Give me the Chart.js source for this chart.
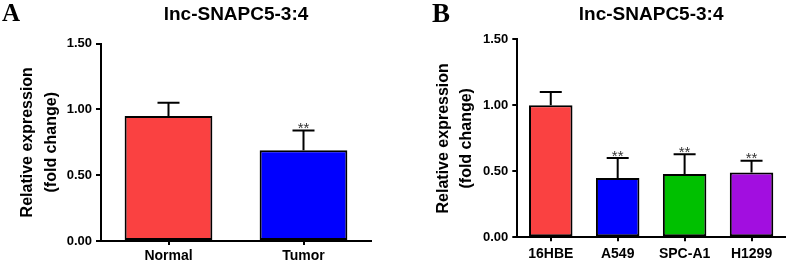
<!DOCTYPE html>
<html>
<head>
<meta charset="utf-8">
<script src="https://cdn.jsdelivr.net/npm/chart.js@4"></script>
<style>
  html, body { margin: 0; padding: 0; background: #fff; }
  #wrap { position: relative; width: 789px; height: 262px; }
  canvas { position: absolute; top: 0; }
  #chartA { left: 0; }
  #chartB { left: 400px; }
</style>
</head>
<body>
<div id="wrap">
  <canvas id="chartA" width="395" height="262"></canvas>
  <canvas id="chartB" width="389" height="262"></canvas>
</div>
<script>
// shared text
const chartTitle = "lnc-SNAPC5-3:4";
const yAxisTitle = ["Relative expression", "(fold change)"];
const yTicks = [0, 0.5, 1.0, 1.5];

// panel A: tissue
const tissueLabels = ["Normal", "Tumor"];
const tissueMeans = [0.95, 0.69];
const tissueErrors = [0.10, 0.15];
const tissueStars = ["", "**"];
const tissueColors = ["#FA4141", "#0000FF"];

// panel B: cell lines
const cellLabels = ["16HBE", "A549", "SPC-A1", "H1299"];
const cellMeans = [1.00, 0.45, 0.48, 0.49];
const cellErrors = [0.10, 0.15, 0.15, 0.09];
const cellStars = ["", "**", "**", "**"];
const cellColors = ["#FA4141", "#0000FF", "#00C000", "#A20EE0"];

const sans = 'Arial, "Liberation Sans", sans-serif';

// draws the upper SEM whisker + significance stars from the data
const errorBarPlugin = {
    id: "errorBars",
    afterDatasetsDraw(chart, args, opts) {
        const ctx = chart.ctx;
        const meta = chart.getDatasetMeta(0);
        const y = chart.scales.y;
        ctx.save();
        ctx.strokeStyle = "#000";
        ctx.lineWidth = 2;
        meta.data.forEach((bar, i) => {
            const top = y.getPixelForValue(opts.means[i] + opts.errors[i]);
            const base = y.getPixelForValue(opts.means[i]);
            ctx.beginPath();
            ctx.moveTo(bar.x, base);
            ctx.lineTo(bar.x, top);
            ctx.moveTo(bar.x - 11, top);
            ctx.lineTo(bar.x + 11, top);
            ctx.stroke();
            if (opts.stars[i]) {
                ctx.fillStyle = "#333";
                ctx.font = "15px " + sans;
                ctx.textAlign = "center";
                ctx.textBaseline = "alphabetic";
                ctx.fillText(opts.stars[i], bar.x, top + 2.5);
            }
        });
        ctx.restore();
    }
};

const panelLetterPlugin = {
    id: "panelLetter",
    afterDraw(chart, args, opts) {
        const ctx = chart.ctx;
        ctx.save();
        ctx.fillStyle = "#000";
        ctx.font = "bold " + opts.size + 'px "Times New Roman", "Liberation Serif", serif';
        ctx.textAlign = "left";
        ctx.textBaseline = "alphabetic";
        ctx.fillText(opts.text, opts.x, opts.y);
        ctx.restore();
    }
};

function makePanel(id, labels, means, errors, stars, colors, geo) {
    new Chart(document.getElementById(id), {
        type: "bar",
        data: {
            labels: labels,
            datasets: [{
                data: means,
                backgroundColor: colors,
                borderColor: "#000",
                borderWidth: 2,
                borderSkipped: false,
                categoryPercentage: 1,
                barPercentage: 0.65
            }]
        },
        plugins: [errorBarPlugin, panelLetterPlugin],
        options: {
            responsive: false,
            animation: false,
            devicePixelRatio: 1,
            layout: { padding: { left: 0, right: geo.padRight, top: 0, bottom: 0 } },
            plugins: {
                legend: { display: false },
                tooltip: { enabled: false },
                title: {
                    display: true,
                    text: chartTitle,
                    fullSize: false,
                    color: "#000",
                    font: { family: sans, size: 19, weight: "bold", lineHeight: 1.2 },
                    padding: { top: 3, bottom: geo.titleBottom }
                },
                errorBars: { means: means, errors: errors, stars: stars },
                panelLetter: geo.letter
            },
            scales: {
                x: {
                    offset: true,
                    grid: {
                        offset: false,
                        drawOnChartArea: false,
                        drawTicks: true,
                        tickLength: 4,
                        color: "#000",
                        lineWidth: 2
                    },
                    border: { color: "#000", width: 2 },
                    ticks: {
                        color: "#000",
                        padding: geo.xPad,
                        font: { family: sans, size: 14, weight: "bold" }
                    },
                    afterFit: s => { s.height = geo.xHeight; }
                },
                y: {
                    min: 0,
                    max: 1.5,
                    afterBuildTicks: s => { s.ticks = yTicks.map(v => ({ value: v })); },
                    grid: {
                        drawOnChartArea: false,
                        drawTicks: true,
                        tickLength: 5,
                        color: "#000",
                        lineWidth: 2
                    },
                    border: { color: "#000", width: 2 },
                    ticks: {
                        color: "#000",
                        padding: 4,
                        font: { family: sans, size: 13, weight: "bold" },
                        callback: v => Number(v).toFixed(2)
                    },
                    title: {
                        display: true,
                        text: yAxisTitle,
                        color: "#000",
                        font: { family: sans, size: 16, weight: "bold", lineHeight: 1.47 },
                        padding: { top: geo.yTitleTop, bottom: 0 }
                    },
                    afterFit: s => { s.width = geo.yWidth; }
                }
            }
        }
    });
}

makePanel("chartA", tissueLabels, tissueMeans, tissueErrors, tissueStars, tissueColors, {
    padRight: 24, titleBottom: 17.7, xHeight: 21, xPad: 3, yWidth: 101, yTitleTop: 16.25,
    letter: { text: "A", x: 2, y: 21, size: 25 }
});

makePanel("chartB", cellLabels, cellMeans, cellErrors, cellStars, cellColors, {
    padRight: 4, titleBottom: 13.5, xHeight: 24.7, xPad: 4.4, yWidth: 117.3, yTitleTop: 31.75,
    letter: { text: "B", x: 32, y: 22, size: 27 }
});
</script>
</body>
</html>
